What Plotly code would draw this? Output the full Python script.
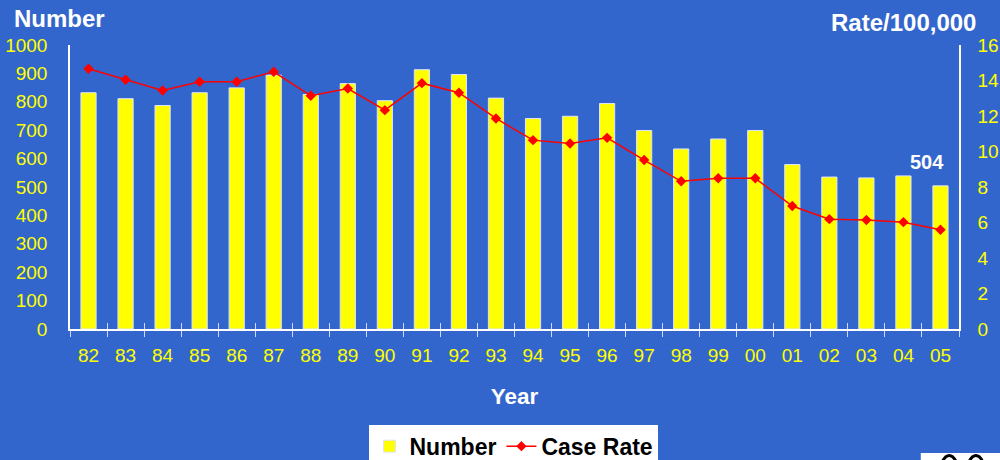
import plotly.graph_objects as go

years = ["82", "83", "84", "85", "86", "87", "88", "89", "90", "91", "92", "93",
         "94", "95", "96", "97", "98", "99", "00", "01", "02", "03", "04", "05"]
numbers = [832, 811, 787, 832, 849, 894, 826, 864, 804, 913, 896, 813,
           741, 749, 794, 699, 634, 669, 699, 579, 535, 532, 539, 504]
case_rate = [14.66, 14.04, 13.44, 13.93, 13.93, 14.49, 13.14, 13.55, 12.33, 13.85, 13.31, 11.86,
             10.64, 10.45, 10.77, 9.52, 8.32, 8.49, 8.49, 6.93, 6.19, 6.14, 6.02, 5.59]
left_ticks = list(range(0, 1001, 100))
right_ticks = list(range(0, 17, 2))

BG = "#3366CC"
YEL = "#FFFF00"
FONT = "Liberation Sans, Arial, sans-serif"

fig = go.Figure()
fig.add_trace(go.Bar(
    x=years, y=numbers, name="Number",
    marker=dict(color=YEL, line=dict(color="#DDE4FF", width=1)),
    xaxis="x", yaxis="y",
))
fig.add_trace(go.Scatter(
    x=years, y=case_rate, name="Case Rate", mode="lines+markers",
    line=dict(color="#FF0000", width=1.5),
    marker=dict(symbol="diamond", size=8, color="#FF0000"),
    xaxis="x2", yaxis="y2",
))

axis_font = dict(family=FONT, size=19, color=YEL)
xr = [-0.5, len(years) - 0.5]

fig.update_layout(
    width=1000, height=460,
    paper_bgcolor=BG, plot_bgcolor=BG,
    margin=dict(l=70, r=41, t=45, b=131, autoexpand=False),
    bargap=0.59,
    showlegend=True,
    legend=dict(
        orientation="h", x=0.4994, xanchor="center", y=-0.3370, yanchor="top",
        bgcolor="#FFFFFF", font=dict(family=FONT, size=23, color="#000000", weight="bold"),
        itemwidth=30, traceorder="normal",
    ),
    xaxis=dict(
        type="category", categoryorder="array", categoryarray=years, range=xr,
        showline=True, linecolor="#FFFFFF", linewidth=1.5,
        ticks="outside", tickson="boundaries", ticklen=6, tickcolor="#D0D8FF", tickwidth=1.2,
        tickfont=axis_font, ticklabelstandoff=8, automargin=False,
        showgrid=False, zeroline=False,
        title=dict(text="Year", font=dict(family=FONT, size=22.5, color="#FFFFFF", weight="bold"),
                   standoff=24),
    ),
    xaxis2=dict(
        type="category", categoryorder="array", categoryarray=years, range=xr,
        overlaying="x", side="bottom", anchor="y",
        showline=False, ticks="inside", tickson="boundaries", ticklen=6,
        tickcolor="#D0D8FF", tickwidth=1.2, showticklabels=False, showgrid=False, zeroline=False,
    ),
    yaxis=dict(
        range=[0, 1000], tickvals=left_ticks, showline=True, linecolor="#FFFFFF", linewidth=1.5,
        ticks="", tickfont=axis_font, ticklabelstandoff=17, showgrid=False, zeroline=False,
        automargin=False,
    ),
    yaxis2=dict(
        range=[0, 16], tickvals=right_ticks, overlaying="y", side="right", anchor="x",
        showline=True, linecolor="#FFFFFF", linewidth=1.5, automargin=False,
        ticks="", tickfont=axis_font, ticklabelstandoff=13, showgrid=False, zeroline=False,
    ),
)

title_font = dict(family=FONT, size=24, color="#FFFFFF", weight="bold")
fig.add_annotation(text="Number", xref="paper", yref="paper", x=-0.0652, y=1.095,
                   xanchor="left", yanchor="middle", showarrow=False, font=title_font)
fig.add_annotation(text="Rate/100,000", xref="paper", yref="paper", x=1.0214, y=1.0775,
                   xanchor="right", yanchor="middle", showarrow=False, font=title_font)
fig.add_annotation(text=str(numbers[-1]), x=len(years) - 1, y=numbers[-1], xref="x", yref="y",
                   xanchor="center", yanchor="middle", xshift=-13, yshift=24, showarrow=False,
                   font=dict(family=FONT, size=20, color="#FFFFFF", weight="bold"))

# partial logo at bottom right
fig.add_shape(type="rect", xref="paper", yref="paper", x0=0.957, x1=1.06, y0=-0.52, y1=-0.4366,
              fillcolor="#FFFFFF", line=dict(width=0), layer="above")
fig.add_shape(type="circle", xref="paper", yref="paper", x0=0.978, x1=1.000, y0=-0.60, y1=-0.445,
              fillcolor="rgba(0,0,0,0)", line=dict(color="#000000", width=3), layer="above")
fig.add_shape(type="circle", xref="paper", yref="paper", x0=1.008, x1=1.030, y0=-0.60, y1=-0.445,
              fillcolor="rgba(0,0,0,0)", line=dict(color="#000000", width=3), layer="above")

fig.write_html("out.html", config={"displayModeBar": False},
               post_script="document.body.style.margin='0';")
